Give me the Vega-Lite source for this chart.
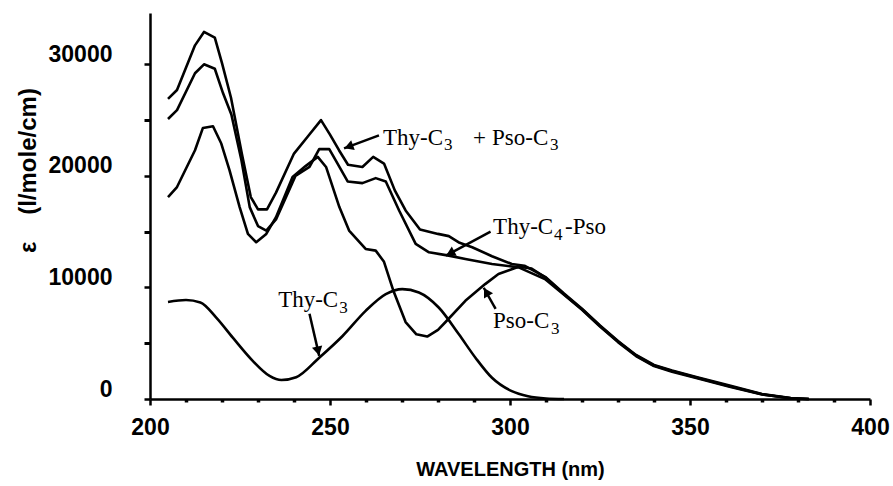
{
  "$schema": "https://vega.github.io/schema/vega-lite/v6.json",
  "autosize": {"type": "none"},
  "padding": {"left": 150, "top": 13, "right": 23, "bottom": 87},
  "width": 720,
  "height": 386,
  "background": "white",
  "config": {"view": {"stroke": null}, "axis": {"labelOverlap": false, "labelFlush": false, "labelBound": false}},
  "resolve": {"axis": {"x": "independent", "y": "independent"}},
  "datasets": {
    "curves": [
      {"s": "A", "w": 205, "e": 26900}, {"s": "A", "w": 207.5, "e": 27700}, {"s": "A", "w": 212.5, "e": 31700}, {"s": "A", "w": 215, "e": 32900}, {"s": "A", "w": 218, "e": 32400}, {"s": "A", "w": 220, "e": 30100}, {"s": "A", "w": 222.5, "e": 27000}, {"s": "A", "w": 225.5, "e": 22000}, {"s": "A", "w": 228, "e": 18100}, {"s": "A", "w": 230, "e": 17000}, {"s": "A", "w": 232.5, "e": 17000}, {"s": "A", "w": 235, "e": 18500}, {"s": "A", "w": 240, "e": 22000}, {"s": "A", "w": 244, "e": 23600}, {"s": "A", "w": 247.5, "e": 25000}, {"s": "A", "w": 250, "e": 23700}, {"s": "A", "w": 252.5, "e": 22300}, {"s": "A", "w": 255, "e": 21000}, {"s": "A", "w": 259, "e": 20800}, {"s": "A", "w": 262, "e": 21700}, {"s": "A", "w": 265, "e": 21100}, {"s": "A", "w": 268, "e": 18700}, {"s": "A", "w": 271, "e": 16900}, {"s": "A", "w": 275, "e": 15200}, {"s": "A", "w": 280, "e": 14800}, {"s": "A", "w": 283, "e": 14600}, {"s": "A", "w": 286, "e": 14000}, {"s": "A", "w": 289.5, "e": 13600}, {"s": "A", "w": 295, "e": 12800}, {"s": "A", "w": 300.5, "e": 12100}, {"s": "A", "w": 304, "e": 11950}, {"s": "A", "w": 310, "e": 10900}, {"s": "A", "w": 315, "e": 9450}, {"s": "A", "w": 320, "e": 8100}, {"s": "A", "w": 325, "e": 6600}, {"s": "A", "w": 330, "e": 5200}, {"s": "A", "w": 335, "e": 3950}, {"s": "A", "w": 340, "e": 3050}, {"s": "A", "w": 345, "e": 2550}, {"s": "A", "w": 352, "e": 1950}, {"s": "A", "w": 361, "e": 1200}, {"s": "A", "w": 370, "e": 450}, {"s": "A", "w": 378, "e": 80}, {"s": "A", "w": 383, "e": 0},
      {"s": "B", "w": 205, "e": 25100}, {"s": "B", "w": 207.5, "e": 25900}, {"s": "B", "w": 212.5, "e": 29200}, {"s": "B", "w": 215, "e": 30000}, {"s": "B", "w": 218, "e": 29600}, {"s": "B", "w": 220.3, "e": 27400}, {"s": "B", "w": 222.6, "e": 25500}, {"s": "B", "w": 225.4, "e": 21400}, {"s": "B", "w": 227.7, "e": 17200}, {"s": "B", "w": 230, "e": 15500}, {"s": "B", "w": 232.3, "e": 15100}, {"s": "B", "w": 235, "e": 16100}, {"s": "B", "w": 237.8, "e": 18100}, {"s": "B", "w": 240.4, "e": 20000}, {"s": "B", "w": 244.3, "e": 20800}, {"s": "B", "w": 247, "e": 22400}, {"s": "B", "w": 249.8, "e": 22400}, {"s": "B", "w": 252.1, "e": 21100}, {"s": "B", "w": 254.9, "e": 19500}, {"s": "B", "w": 259, "e": 19350}, {"s": "B", "w": 262.7, "e": 19800}, {"s": "B", "w": 265.5, "e": 19500}, {"s": "B", "w": 269.2, "e": 16900}, {"s": "B", "w": 273.8, "e": 13900}, {"s": "B", "w": 277.5, "e": 13150}, {"s": "B", "w": 283, "e": 12850}, {"s": "B", "w": 287.6, "e": 12550}, {"s": "B", "w": 295, "e": 12100}, {"s": "B", "w": 302.4, "e": 11800}, {"s": "B", "w": 309.7, "e": 10750}, {"s": "B", "w": 315, "e": 9350}, {"s": "B", "w": 320, "e": 8000}, {"s": "B", "w": 325, "e": 6500}, {"s": "B", "w": 330, "e": 5100}, {"s": "B", "w": 335, "e": 3850}, {"s": "B", "w": 340, "e": 2950}, {"s": "B", "w": 345, "e": 2450}, {"s": "B", "w": 352, "e": 1850}, {"s": "B", "w": 361, "e": 1100}, {"s": "B", "w": 370, "e": 400}, {"s": "B", "w": 378, "e": 60}, {"s": "B", "w": 383, "e": 0},
      {"s": "C", "w": 205, "e": 18100}, {"s": "C", "w": 207.5, "e": 19000}, {"s": "C", "w": 212.5, "e": 22300}, {"s": "C", "w": 214.7, "e": 24300}, {"s": "C", "w": 217.5, "e": 24450}, {"s": "C", "w": 219.8, "e": 22900}, {"s": "C", "w": 222.1, "e": 20500}, {"s": "C", "w": 224.9, "e": 17200}, {"s": "C", "w": 227.2, "e": 14800}, {"s": "C", "w": 229.5, "e": 14050}, {"s": "C", "w": 232.3, "e": 14800}, {"s": "C", "w": 235, "e": 16300}, {"s": "C", "w": 239.6, "e": 19900}, {"s": "C", "w": 243.3, "e": 20900}, {"s": "C", "w": 246.6, "e": 21700}, {"s": "C", "w": 248.9, "e": 20800}, {"s": "C", "w": 252.6, "e": 17200}, {"s": "C", "w": 255.3, "e": 15100}, {"s": "C", "w": 259.9, "e": 13450}, {"s": "C", "w": 262.7, "e": 13300}, {"s": "C", "w": 265, "e": 12300}, {"s": "C", "w": 267.5, "e": 9800}, {"s": "C", "w": 271, "e": 6900}, {"s": "C", "w": 274, "e": 5800}, {"s": "C", "w": 277, "e": 5600}, {"s": "C", "w": 280, "e": 6200}, {"s": "C", "w": 282.1, "e": 6900}, {"s": "C", "w": 287.6, "e": 8800}, {"s": "C", "w": 293.1, "e": 10300}, {"s": "C", "w": 296.8, "e": 11200}, {"s": "C", "w": 302.4, "e": 11850}, {"s": "C", "w": 306, "e": 11700}, {"s": "C", "w": 310, "e": 10850}, {"s": "C", "w": 315, "e": 9400}, {"s": "C", "w": 320, "e": 8050}, {"s": "C", "w": 325, "e": 6550}, {"s": "C", "w": 330, "e": 5150}, {"s": "C", "w": 335, "e": 3900}, {"s": "C", "w": 340, "e": 3000}, {"s": "C", "w": 345, "e": 2500}, {"s": "C", "w": 352, "e": 1900}, {"s": "C", "w": 361, "e": 1150}, {"s": "C", "w": 370, "e": 420}, {"s": "C", "w": 378, "e": 70}, {"s": "C", "w": 383, "e": 0},
      {"s": "D", "w": 205, "e": 8700}, {"s": "D", "w": 210, "e": 8870}, {"s": "D", "w": 214, "e": 8650}, {"s": "D", "w": 218.4, "e": 7300}, {"s": "D", "w": 223, "e": 5500}, {"s": "D", "w": 228.6, "e": 3400}, {"s": "D", "w": 233.2, "e": 2070}, {"s": "D", "w": 236.5, "e": 1700}, {"s": "D", "w": 240.6, "e": 1950}, {"s": "D", "w": 247, "e": 3700}, {"s": "D", "w": 253.5, "e": 5650}, {"s": "D", "w": 259.9, "e": 7900}, {"s": "D", "w": 265.5, "e": 9400}, {"s": "D", "w": 270.1, "e": 9850}, {"s": "D", "w": 274.7, "e": 9550}, {"s": "D", "w": 280.2, "e": 8200}, {"s": "D", "w": 285.8, "e": 5800}, {"s": "D", "w": 290.4, "e": 3700}, {"s": "D", "w": 295, "e": 1900}, {"s": "D", "w": 300.5, "e": 700}, {"s": "D", "w": 305, "e": 250}, {"s": "D", "w": 310, "e": 50}, {"s": "D", "w": 315, "e": 0}
    ],
    "labels": [
      {"t": "Thy-C", "k": "main", "w": 264.7, "e": 23400},
      {"t": "3", "k": "sub", "w": 281.7, "e": 22770},
      {"t": "+", "k": "main", "w": 289.7, "e": 23400},
      {"t": "Pso-C", "k": "main", "w": 295.0, "e": 23400},
      {"t": "3", "k": "sub", "w": 311.1, "e": 22770},
      {"t": "Thy-C", "k": "main", "w": 295.3, "e": 15420},
      {"t": "4", "k": "sub", "w": 312.2, "e": 14700},
      {"t": "-Pso", "k": "main", "w": 315.3, "e": 15420},
      {"t": "Pso-C", "k": "main", "w": 295.3, "e": 6990},
      {"t": "3", "k": "sub", "w": 311.4, "e": 6270},
      {"t": "Thy-C", "k": "main", "w": 235.6, "e": 8870},
      {"t": "3", "k": "sub", "w": 252.6, "e": 8150}
    ],
    "arrows": [
      {"w": 263.6, "e": 23630, "w2": 253.9, "e2": 22463, "hw": 255.2, "he": 22615, "dir": 250},
      {"w": 294.6, "e": 15005, "w2": 282.2, "e2": 12849, "hw": 283.4, "he": 13064, "dir": 242},
      {"w": 296.0, "e": 8087, "w2": 292.7, "e2": 9973, "hw": 293.4, "he": 9587, "dir": 330},
      {"w": 244.3, "e": 7637, "w2": 247.0, "e2": 3864, "hw": 246.7, "he": 4304, "dir": 167}
    ]
  },
  "layer": [
    {
      "data": {"name": "curves"},
      "transform": [{"filter": "datum.s !== 'D'"}],
      "mark": {"type": "line", "color": "black", "strokeWidth": 2.6, "strokeJoin": "round"},
      "encoding": {
        "x": {
          "field": "w", "type": "quantitative",
          "scale": {"domain": [200, 400], "nice": false, "zero": false},
          "axis": {
            "orient": "bottom",
            "title": "WAVELENGTH (nm)",
            "values": [200, 250, 300, 350, 400],
            "format": "d",
            "grid": false,
            "labelFlush": false, "labelOverlap": false, "labelBound": false,
            "domainColor": "black", "domainWidth": 2.5,
            "tickColor": "black", "tickWidth": 2.5, "tickSize": 6,
            "encode": {"ticks": {"update": {"y": {"value": -7}, "y2": {"value": 6}}}},
            "labelFont": "Liberation Sans",
            "labelFontWeight": "bold", "labelFontSize": 23, "labelColor": "black",
            "labelPadding": 11, "labelBaseline": "top",
            "titleFont": "Liberation Sans",
            "titleFontWeight": "bold", "titleFontSize": 20, "titleColor": "black",
            "titleY": 60, "titleBaseline": "top"
          }
        },
        "y": {
          "field": "e", "type": "quantitative",
          "scale": {"domain": [0, 34600], "nice": false},
          "axis": {
            "orient": "left",
            "title": "ε\u00a0\u00a0\u00a0\u00a0(l/mole/cm)",
            "values": [0, 10000, 20000, 30000],
            "format": "d",
            "grid": false,
            "labelFlush": false, "labelOverlap": false, "labelBound": false,
            "domainColor": "black", "domainWidth": 2.5,
            "tickColor": "black", "tickWidth": 2.5, "tickSize": 6,
            "encode": {"ticks": {"update": {"x": {"value": 7}, "x2": {"value": -17}}}},
            "labelFont": "Liberation Sans",
            "labelFontWeight": "bold", "labelFontSize": 23, "labelColor": "black",
            "labelPadding": 32, "labelOffset": -10, "labelBaseline": "middle",
            "titleFont": "Liberation Sans",
            "titleFontWeight": "bold", "titleFontSize": 24, "titleColor": "black",
            "titleAngle": -90, "titleX": -122, "titleY": 157,
            "titleAlign": "center", "titleBaseline": "middle"
          }
        },
        "detail": {"field": "s"}
      }
    },
    {
      "data": {"name": "curves"},
      "transform": [{"filter": "datum.s === 'D'"}],
      "mark": {"type": "line", "color": "black", "strokeWidth": 2.6, "interpolate": "monotone"},
      "encoding": {
        "x": {
          "field": "w", "type": "quantitative",
          "axis": {
            "orient": "bottom", "title": null, "labels": false, "domain": false, "grid": false,
            "values": [210, 220, 230, 240, 260, 270, 280, 290, 310, 320, 330, 340, 360, 370, 380, 390],
            "tickColor": "black", "tickWidth": 3.5, "tickSize": 3,
            "encode": {"ticks": {"update": {"y": {"value": -3}, "y2": {"value": 3}}}}
          }
        },
        "y": {
          "field": "e", "type": "quantitative",
          "axis": {
            "orient": "left", "title": null, "labels": false, "domain": false, "grid": false,
            "values": [5000, 15000, 25000],
            "tickColor": "black", "tickWidth": 3, "tickSize": 6,
            "encode": {"ticks": {"update": {"x": {"value": 5}, "x2": {"value": -6}}}}
          }
        }
      }
    },
    {
      "data": {"name": "arrows"},
      "mark": {"type": "rule", "color": "black", "strokeWidth": 2.5},
      "encoding": {
        "x": {"field": "w", "type": "quantitative", "axis": null},
        "y": {"field": "e", "type": "quantitative", "axis": null},
        "x2": {"field": "w2"},
        "y2": {"field": "e2"}
      }
    },
    {
      "data": {"name": "arrows"},
      "mark": {"type": "point", "shape": "triangle-up", "filled": true, "color": "black", "size": 110, "opacity": 1},
      "encoding": {
        "x": {"field": "hw", "type": "quantitative", "axis": null},
        "y": {"field": "he", "type": "quantitative", "axis": null},
        "angle": {"field": "dir", "type": "quantitative", "scale": null}
      }
    },
    {
      "data": {"name": "labels"},
      "transform": [{"filter": "datum.k === 'main'"}],
      "mark": {"type": "text", "align": "left", "baseline": "middle", "font": "Liberation Serif", "fontSize": 23, "color": "black"},
      "encoding": {
        "x": {"field": "w", "type": "quantitative", "axis": null},
        "y": {"field": "e", "type": "quantitative", "axis": null},
        "text": {"field": "t"}
      }
    },
    {
      "data": {"name": "labels"},
      "transform": [{"filter": "datum.k === 'sub'"}],
      "mark": {"type": "text", "align": "left", "baseline": "middle", "font": "Liberation Serif", "fontSize": 17, "color": "black"},
      "encoding": {
        "x": {"field": "w", "type": "quantitative", "axis": null},
        "y": {"field": "e", "type": "quantitative", "axis": null},
        "text": {"field": "t"}
      }
    }
  ]
}
